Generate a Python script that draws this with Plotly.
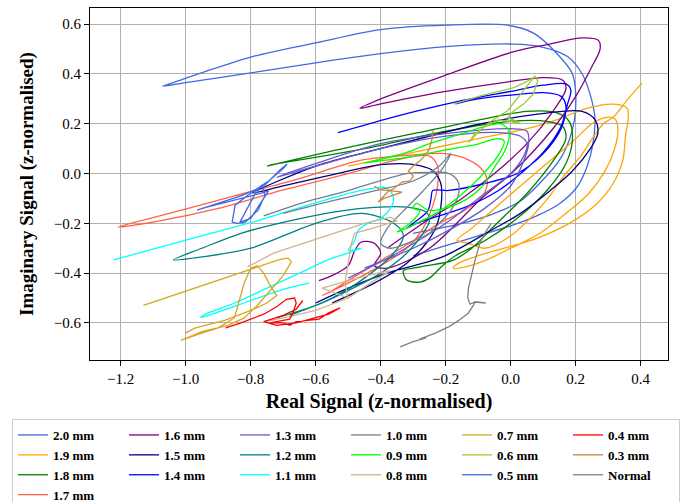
import plotly.graph_objects as go

# ---- Series data: real (x) and imaginary (y) parts, z-normalised ----
X_20 = [-0.3, -0.15, -0.06, 0.03, 0.09, 0.15, 0.18, 0.196, 0.2, 0.19, 0.16, 0.07, -0.01, -0.2, -0.4, -0.6, -0.8, -0.95, -1.05, -1.071,
        -1.0, -0.8, -0.6, -0.4, -0.2, 0.01, 0.09, 0.175, 0.22, 0.244, 0.259, 0.253, 0.234, 0.203, 0.151, 0.08, 0.0, -0.1, -0.2, -0.3]
Y_20 = [-0.24, -0.2, -0.165, -0.11, -0.038, 0.054, 0.134, 0.215, 0.32, 0.4, 0.456, 0.564, 0.596, 0.596, 0.578, 0.525, 0.468, 0.405, 0.36, 0.351,
        0.365, 0.404, 0.445, 0.482, 0.51, 0.52, 0.51, 0.47, 0.4, 0.32, 0.225, 0.12, 0.024, -0.056, -0.12, -0.17, -0.21, -0.25, -0.29, -0.33]

X_19 = [-0.5, -0.3, -0.1, 0.05, 0.15, 0.234, 0.316, 0.358, 0.362, 0.353, 0.345, 0.315, 0.266, 0.18, 0.08, -0.02, -0.1, -0.16, -0.177,
        -0.15, -0.08, 0.0, 0.09, 0.17, 0.24, 0.29, 0.32, 0.33, 0.32, 0.29, 0.25, 0.2, 0.12, 0.03, -0.05, -0.12, -0.165,
        -0.13, -0.08, 0.0, 0.11, 0.161, 0.213, 0.254, 0.285, 0.316, 0.358, 0.404]
Y_19 = [0.03, 0.085, 0.14, 0.18, 0.22, 0.262, 0.279, 0.263, 0.227, 0.147, 0.054, -0.04, -0.12, -0.2, -0.26, -0.3, -0.33, -0.36, -0.38,
        -0.378, -0.35, -0.3, -0.24, -0.16, -0.08, 0.01, 0.1, 0.18, 0.22, 0.225, 0.2, 0.14, 0.05, -0.05, -0.14, -0.22, -0.268,
        -0.28, -0.3, -0.25, -0.107, -0.014, 0.066, 0.146, 0.2, 0.227, 0.295, 0.363]

X_18 = [-0.75, -0.5, -0.3, -0.1, 0.05, 0.14, 0.18, 0.19, 0.17, 0.11, 0.02, -0.08, -0.17, -0.21, -0.25, -0.28, -0.32, -0.33, -0.3, -0.26,
        -0.18, -0.12, -0.05, 0.05, 0.13, 0.17, 0.16, 0.11, 0.0, -0.2, -0.45, -0.74]
Y_18 = [0.03, 0.105, 0.16, 0.215, 0.25, 0.245, 0.21, 0.14, 0.04, -0.07, -0.18, -0.27, -0.33, -0.37, -0.42, -0.436, -0.428, -0.39, -0.38, -0.37,
        -0.35, -0.3, -0.21, -0.08, 0.05, 0.14, 0.19, 0.21, 0.21, 0.17, 0.1, 0.035]

X_17 = [-0.58, -0.5, -0.4, -0.32, -0.27, -0.24, -0.225, -0.225, -0.25, -0.35, -0.5, -0.7, -0.9, -1.08, -1.208,
        -1.05, -0.85, -0.65, -0.46, -0.3, -0.2, -0.13, -0.085, -0.072, -0.09, -0.145, -0.22, -0.3, -0.4, -0.5, -0.56]
Y_17 = [-0.49, -0.44, -0.37, -0.3, -0.22, -0.13, -0.05, 0.03, 0.07, 0.055, 0.0, -0.066, -0.14, -0.19, -0.215,
        -0.16, -0.09, -0.02, 0.054, 0.075, 0.08, 0.055, 0.012, -0.04, -0.096, -0.15, -0.2, -0.27, -0.35, -0.43, -0.48]

X_16 = [-0.59, -0.55, -0.5, -0.48, -0.46, -0.42, -0.4, -0.42, -0.38, -0.25, -0.09, 0.01, 0.13, 0.2, 0.25, 0.275, 0.27, 0.22, 0.12, 0.01,
        -0.19, -0.4, -0.464, -0.4, -0.2, 0.0, 0.1, 0.16, 0.17, 0.13, 0.05, -0.05, -0.15, -0.27, -0.38]
Y_16 = [-0.43, -0.41, -0.37, -0.31, -0.275, -0.28, -0.32, -0.37, -0.38, -0.3, -0.1, 0.01, 0.18, 0.31, 0.43, 0.5, 0.535, 0.545, 0.52, 0.49,
        0.4, 0.3, 0.262, 0.28, 0.33, 0.37, 0.385, 0.375, 0.34, 0.25, 0.12, 0.0, -0.1, -0.2, -0.3]

X_15 = [-0.6, -0.5, -0.38, -0.21, -0.06, 0.03, 0.12, 0.19, 0.245, 0.268, 0.26, 0.22, 0.11, -0.09, -0.4, -0.6, -0.793,
        -0.7, -0.52, -0.42, -0.34, -0.28, -0.24, -0.215, -0.215, -0.23, -0.26, -0.32, -0.42, -0.55]
Y_15 = [-0.52, -0.46, -0.4, -0.335, -0.228, -0.16, -0.07, 0.01, 0.1, 0.16, 0.215, 0.25, 0.243, 0.2, 0.1, 0.03, -0.078,
        -0.05, 0.004, 0.032, 0.04, 0.032, 0.012, -0.04, -0.136, -0.216, -0.28, -0.36, -0.44, -0.52]

X_14 = [-0.532, -0.37, -0.175, 0.0, 0.1, 0.17, 0.185, 0.175, 0.155, 0.11, 0.04, -0.04, -0.13, -0.22, -0.29, -0.32, -0.29, -0.255,
        -0.245, -0.24, -0.19, -0.08, 0.02, 0.1, 0.155, 0.17, 0.155, 0.1, 0.0, -0.1, -0.17]
Y_14 = [0.164, 0.224, 0.286, 0.33, 0.355, 0.36, 0.335, 0.28, 0.19, 0.1, 0.01, -0.07, -0.13, -0.17, -0.2, -0.22, -0.19, -0.15,
        -0.1, -0.068, -0.068, -0.04, 0.0, 0.08, 0.18, 0.27, 0.31, 0.325, 0.315, 0.3, 0.28]

X_13 = [-0.5, -0.35, -0.2, -0.1, 0.0, 0.04, 0.05, 0.03, -0.05, -0.2, -0.4, -0.6, -0.72, -0.6, -0.4, -0.2, 0.0, 0.05, 0.055, 0.04,
        0.0, -0.08, -0.18, -0.3, -0.45]
Y_13 = [-0.42, -0.32, -0.2, -0.1, 0.0, 0.07, 0.12, 0.15, 0.165, 0.15, 0.1, 0.03, -0.015, 0.04, 0.12, 0.16, 0.18, 0.17, 0.12, 0.05,
        -0.05, -0.14, -0.22, -0.3, -0.38]

X_12 = [-0.72, -0.6, -0.5, -0.4, -0.32, -0.27, -0.25, -0.26, -0.32, -0.42, -0.52, -0.68, -0.83, -0.95, -1.038,
        -0.95, -0.8, -0.6, -0.46, -0.36, -0.33, -0.36, -0.45, -0.55, -0.62, -0.68]
Y_12 = [-0.58, -0.53, -0.47, -0.4, -0.32, -0.24, -0.19, -0.155, -0.135, -0.136, -0.15, -0.19, -0.24, -0.3, -0.347,
        -0.335, -0.3, -0.2, -0.16, -0.2, -0.25, -0.32, -0.42, -0.5, -0.54, -0.57]

X_11 = [-1.222, -0.98, -0.78, -0.58, -0.45, -0.39, -0.37, -0.36, -0.37, -0.4, -0.44, -0.47, -0.48, -0.5, -0.46, -0.5, -0.55,
        -0.65, -0.75, -0.85, -0.93, -0.955, -0.92, -0.8, -0.7, -0.62]
Y_11 = [-0.347, -0.26, -0.19, -0.11, -0.065, -0.055, -0.07, -0.1, -0.14, -0.18, -0.2, -0.23, -0.27, -0.31, -0.3, -0.32, -0.34,
        -0.4, -0.46, -0.52, -0.56, -0.578, -0.565, -0.51, -0.465, -0.44]

X_10 = [-0.76, -0.62, -0.52, -0.42, -0.32, -0.25, -0.19, -0.163, -0.16, -0.185, -0.22, -0.25, -0.3, -0.37, -0.4, -0.38, -0.33,
        -0.27, -0.21, -0.185, -0.22, -0.3, -0.42, -0.55, -0.7]
Y_10 = [-0.17, -0.11, -0.076, -0.036, 0.0, 0.005, 0.0, -0.03, -0.08, -0.15, -0.2, -0.24, -0.27, -0.3, -0.28, -0.22, -0.15,
        -0.07, 0.02, 0.08, 0.03, -0.03, -0.07, -0.11, -0.16]

X_09 = [-0.45, -0.32, -0.25, -0.15, -0.09, -0.03, -0.005, -0.015, -0.05, -0.09, -0.16, -0.25, -0.29, -0.3, -0.28, -0.31, -0.35,
        -0.29, -0.215, -0.114, -0.04, -0.02, -0.04, -0.11, -0.2, -0.32, -0.44]
Y_09 = [0.042, 0.085, 0.12, 0.16, 0.185, 0.2, 0.17, 0.1, 0.025, -0.055, -0.12, -0.148, -0.12, -0.14, -0.15, -0.2, -0.235,
        -0.2, -0.148, -0.04, 0.07, 0.13, 0.14, 0.115, 0.095, 0.065, 0.045]

X_08 = [-0.81, -0.73, -0.58, -0.45, -0.37, -0.35, -0.4, -0.48, -0.49, -0.5, -0.51, -0.5, -0.58, -0.5, -0.41, -0.37, -0.42,
        -0.5, -0.6, -0.7, -0.76]
Y_08 = [-0.375, -0.32, -0.255, -0.2, -0.175, -0.19, -0.21, -0.24, -0.28, -0.36, -0.44, -0.5, -0.46, -0.43, -0.4, -0.39, -0.43,
        -0.5, -0.55, -0.58, -0.596]

X_07 = [-1.13, -1.0, -0.88, -0.78, -0.71, -0.685, -0.675, -0.7, -0.74, -0.78, -0.82, -0.87, -0.95, -1.015, -0.96, -0.9, -0.85,
        -0.84, -0.82, -0.8, -0.78, -0.76, -0.74, -0.72, -0.75, -0.8, -0.88, -0.97, -1.0]
Y_07 = [-0.53, -0.472, -0.42, -0.375, -0.345, -0.34, -0.355, -0.41, -0.47, -0.53, -0.58, -0.61, -0.635, -0.67, -0.645, -0.62, -0.58,
        -0.53, -0.44, -0.38, -0.37, -0.4, -0.45, -0.49, -0.52, -0.55, -0.59, -0.62, -0.64]

X_06 = [-0.175, -0.09, 0.01, 0.05, 0.075, 0.083, 0.07, 0.04, 0.01, -0.01, 0.01, 0.03, 0.0, -0.04, -0.09, -0.13, -0.11, -0.06,
        -0.01, 0.03, 0.06, 0.075]
Y_06 = [0.28, 0.313, 0.345, 0.37, 0.39, 0.372, 0.32, 0.28, 0.252, 0.224, 0.215, 0.2, 0.21, 0.215, 0.18, 0.124, 0.16, 0.21,
        0.252, 0.32, 0.37, 0.392]

X_05 = [-0.965, -0.9, -0.83, -0.787, -0.745, -0.7, -0.688, -0.71, -0.756, -0.808, -0.848, -0.857, -0.84, -0.817, -0.777, -0.756,
        -0.765, -0.79, -0.815, -0.833, -0.8, -0.77, -0.745, -0.77, -0.83, -0.9, -0.95]
Y_05 = [-0.147, -0.12, -0.09, -0.066, -0.03, 0.02, 0.038, 0.014, -0.046, -0.086, -0.127, -0.195, -0.2, -0.195, -0.147, -0.086,
        -0.046, -0.09, -0.15, -0.195, -0.18, -0.12, -0.07, -0.08, -0.1, -0.125, -0.14]

X_04 = [-0.877, -0.83, -0.76, -0.72, -0.69, -0.665, -0.66, -0.67, -0.68, -0.74, -0.7, -0.68, -0.66, -0.62, -0.59, -0.56, -0.525,
        -0.56, -0.6, -0.66, -0.72, -0.76, -0.7, -0.66, -0.64]
Y_04 = [-0.62, -0.6, -0.565, -0.535, -0.505, -0.5, -0.52, -0.56, -0.585, -0.6, -0.6, -0.61, -0.595, -0.59, -0.585, -0.56, -0.54,
        -0.565, -0.58, -0.6, -0.61, -0.595, -0.57, -0.545, -0.51]

X_03 = [-0.239, -0.24, -0.25, -0.262, -0.28, -0.3, -0.315, -0.3, -0.31, -0.334, -0.36, -0.38, -0.39, -0.408, -0.39, -0.36, -0.334,
        -0.365, -0.4, -0.42]
Y_03 = [0.175, 0.15, 0.1, 0.075, 0.05, 0.03, 0.01, -0.01, -0.03, -0.034, -0.06, -0.075, -0.09, -0.114, -0.1, -0.085, -0.075,
        -0.07, -0.066, -0.05]

X_N = [-0.34, -0.3, -0.26, -0.28, -0.23, -0.19, -0.16, -0.13, -0.115, -0.11, -0.077, -0.11, -0.125, -0.132, -0.13, -0.12, -0.11,
       -0.095, -0.075, -0.06]
Y_N = [-0.696, -0.675, -0.66, -0.665, -0.64, -0.615, -0.59, -0.56, -0.53, -0.515, -0.52, -0.516, -0.525, -0.5, -0.46, -0.4, -0.35,
       -0.28, -0.23, -0.2]

LABELS = ["2.0 mm", "1.9 mm", "1.8 mm", "1.7 mm", "1.6 mm", "1.5 mm", "1.4 mm", "1.3 mm", "1.2 mm", "1.1 mm",
          "1.0 mm", "0.9 mm", "0.8 mm", "0.7 mm", "0.6 mm", "0.5 mm", "0.4 mm", "0.3 mm", "Normal"]
XS = [X_20, X_19, X_18, X_17, X_16, X_15, X_14, X_13, X_12, X_11, X_10, X_09, X_08, X_07, X_06, X_05, X_04, X_03, X_N]
YS = [Y_20, Y_19, Y_18, Y_17, Y_16, Y_15, Y_14, Y_13, Y_12, Y_11, Y_10, Y_09, Y_08, Y_07, Y_06, Y_05, Y_04, Y_03, Y_N]

X_TICKS = [-1.2, -1.0, -0.8, -0.6, -0.4, -0.2, 0.0, 0.2, 0.4]
Y_TICKS = [-0.6, -0.4, -0.2, 0.0, 0.2, 0.4, 0.6]

# ---- Styling ----
COLORS = ["#4169E1", "#FFA500", "#008000", "#FF6347", "#800080", "#000080", "#0000FF", "#6A5ACD", "#008080", "#00FFFF",
          "#708090", "#00FF00", "#D2B48C", "#DAA520", "#9ACD32", "#4169E1", "#FF0000", "#CD853F", "#808080"]
JAGGED = {"0.7 mm", "0.6 mm", "0.5 mm", "0.4 mm", "0.3 mm", "Normal", "0.8 mm"}
SERIF = "Liberation Serif"
NCOL = 6

# Legend is filled column by column: the first column takes the extra entry.
n = len(LABELS)
base, extra = divmod(n, NCOL)
col_sizes = [base + (1 if c < extra else 0) for c in range(NCOL)]
ranks = []
for c, size in enumerate(col_sizes):
    for r in range(size):
        ranks.append(r * NCOL + c)

fig = go.Figure()
for name, xs, ys, col, rank in zip(LABELS, XS, YS, COLORS, ranks):
    fig.add_trace(go.Scatter(
        x=xs, y=ys, mode="lines", name=name,
        line=dict(color=col, width=1.3,
                  shape="linear" if name in JAGGED else "spline",
                  smoothing=0.9),
        legendrank=rank + 1,
    ))

axis_common = dict(
    showgrid=True, gridcolor="#b0b0b0", gridwidth=1.2,
    zeroline=False, showline=True, linecolor="black", linewidth=1, mirror=True,
    ticks="outside", ticklen=5, tickcolor="black", tickwidth=1,
    tickfont=dict(family=SERIF, size=15, color="black"),
    tickformat=".1f",
)

fig.update_layout(
    width=685, height=502,
    margin=dict(l=90, r=17, t=8, b=142, autoexpand=False),
    plot_bgcolor="white", paper_bgcolor="white",
    xaxis=dict(range=[-1.2945, 0.484], tickvals=X_TICKS,
               title=dict(text="Real Signal (z-normalised)", standoff=7,
                          font=dict(family=SERIF, size=20, color="black", weight="bold")),
               **axis_common),
    yaxis=dict(range=[-0.749, 0.665], tickvals=Y_TICKS,
               title=dict(text="Imaginary Signal (z-normalised)", standoff=15,
                          font=dict(family=SERIF, size=19, color="black", weight="bold")),
               **axis_common),
    legend=dict(
        orientation="h", xref="paper", yref="paper",
        x=(12 - 90) / 578, y=(360 - 419) / 352, xanchor="left", yanchor="top",
        entrywidth=66, entrywidthmode="pixels",
        bordercolor="#cccccc", borderwidth=1, bgcolor="white",
        font=dict(family=SERIF, size=13, color="black", weight="bold"),
        traceorder="normal",
    ),
    showlegend=True,
)

fig.write_html("out.html")
